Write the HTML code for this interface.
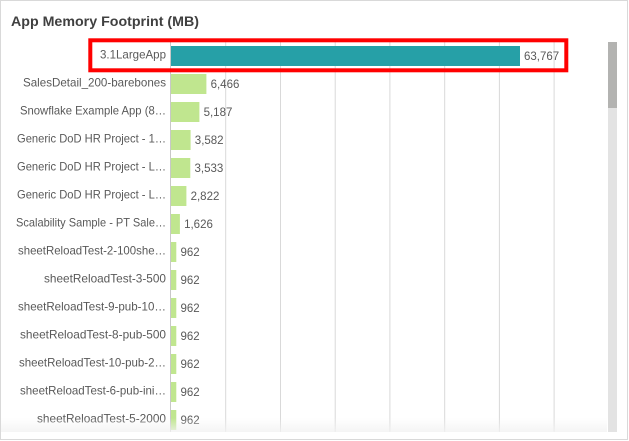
<!DOCTYPE html>
<html>
<head>
<meta charset="utf-8">
<style>
  html, body { margin:0; padding:0; background:#fff; }
  body { width:629px; height:441px; overflow:hidden; position:relative; }
  svg { position:absolute; left:0; top:0; }
  .lbl { font-family:"Liberation Sans", sans-serif; font-size:11.6px; fill:#595959; }
  .val { font-family:"Liberation Sans", sans-serif; font-size:11.5px; fill:#595959; }
  .title { font-family:"Liberation Sans", sans-serif; font-size:14px; font-weight:bold; fill:#404040; }
</style>
</head>
<body>
<svg width="629" height="441" viewBox="0 0 629 441" xmlns="http://www.w3.org/2000/svg">
  <defs>
    <linearGradient id="fade" x1="0" y1="0" x2="0" y2="1">
      <stop offset="0" stop-color="#f2f2f2" stop-opacity="0"/>
      <stop offset="1" stop-color="#f2f2f2" stop-opacity="0.8"/>
    </linearGradient>
  </defs>
  <!-- card -->
  <rect x="0.5" y="0.5" width="627" height="439" fill="#fff" stroke="#d9d9d9" stroke-width="1"/>
  <text class="title" x="11" y="26" textLength="188" lengthAdjust="spacingAndGlyphs">App Memory Footprint (MB)</text>

  <!-- gridlines -->
  <g stroke="#d9d9d9" stroke-width="1">
    <line x1="225.7" y1="40" x2="225.7" y2="432"/>
    <line x1="280.5" y1="40" x2="280.5" y2="432"/>
    <line x1="335.2" y1="40" x2="335.2" y2="432"/>
    <line x1="389.9" y1="40" x2="389.9" y2="432"/>
    <line x1="444.7" y1="40" x2="444.7" y2="432"/>
    <line x1="499.4" y1="40" x2="499.4" y2="432"/>
    <line x1="554.1" y1="40" x2="554.1" y2="432"/>
  </g>
  <line x1="170.5" y1="40" x2="170.5" y2="432" stroke="#c8c8c8" stroke-width="1"/>

  <!-- bars -->
  <rect x="171" y="46" width="349" height="20" fill="#26a0a7"/>
  <g fill="#c0e68f">
    <rect x="171" y="74" width="35.4" height="20"/>
    <rect x="171" y="102" width="28.4" height="20"/>
    <rect x="171" y="130" width="19.6" height="20"/>
    <rect x="171" y="158" width="19.3" height="20"/>
    <rect x="171" y="186" width="15.4" height="20"/>
    <rect x="171" y="214" width="8.9" height="20"/>
    <rect x="171" y="242" width="5.3" height="20"/>
    <rect x="171" y="270" width="5.3" height="20"/>
    <rect x="171" y="298" width="5.3" height="20"/>
    <rect x="171" y="326" width="5.3" height="20"/>
    <rect x="171" y="354" width="5.3" height="20"/>
    <rect x="171" y="382" width="5.3" height="20"/>
    <rect x="171" y="410" width="5.3" height="20"/>
  </g>

  <!-- category labels -->
  <g class="lbl" text-anchor="end">
    <text x="166" y="58.5" textLength="66" lengthAdjust="spacingAndGlyphs">3.1LargeApp</text>
    <text x="166" y="86.3" textLength="143" lengthAdjust="spacingAndGlyphs">SalesDetail_200-barebones</text>
    <text x="166" y="114.3" textLength="146" lengthAdjust="spacingAndGlyphs">Snowflake Example App (8…</text>
    <text x="166" y="142.3" textLength="149" lengthAdjust="spacingAndGlyphs">Generic DoD HR Project - 1…</text>
    <text x="166" y="170.3" textLength="149" lengthAdjust="spacingAndGlyphs">Generic DoD HR Project - L…</text>
    <text x="166" y="198.3" textLength="149" lengthAdjust="spacingAndGlyphs">Generic DoD HR Project - L…</text>
    <text x="166" y="226.3" textLength="150" lengthAdjust="spacingAndGlyphs">Scalability Sample - PT Sale…</text>
    <text x="166" y="254.3" textLength="148" lengthAdjust="spacingAndGlyphs">sheetReloadTest-2-100she…</text>
    <text x="166" y="282.3" textLength="122" lengthAdjust="spacingAndGlyphs">sheetReloadTest-3-500</text>
    <text x="166" y="310.3" textLength="148" lengthAdjust="spacingAndGlyphs">sheetReloadTest-9-pub-10…</text>
    <text x="166" y="338.3" textLength="146" lengthAdjust="spacingAndGlyphs">sheetReloadTest-8-pub-500</text>
    <text x="166" y="366.3" textLength="147" lengthAdjust="spacingAndGlyphs">sheetReloadTest-10-pub-2…</text>
    <text x="166" y="394.3" textLength="146" lengthAdjust="spacingAndGlyphs">sheetReloadTest-6-pub-ini…</text>
    <text x="166" y="422.3" textLength="129" lengthAdjust="spacingAndGlyphs">sheetReloadTest-5-2000</text>
  </g>

  <!-- value labels -->
  <g class="val">
    <text x="524" y="59.8">63,767</text>
    <text x="210.6" y="87.8">6,466</text>
    <text x="203.6" y="115.8">5,187</text>
    <text x="194.8" y="143.8">3,582</text>
    <text x="194.5" y="171.8">3,533</text>
    <text x="190.6" y="199.8">2,822</text>
    <text x="184.1" y="227.8">1,626</text>
    <text x="180.5" y="255.8">962</text>
    <text x="180.5" y="283.8">962</text>
    <text x="180.5" y="311.8">962</text>
    <text x="180.5" y="339.8">962</text>
    <text x="180.5" y="367.8">962</text>
    <text x="180.5" y="395.8">962</text>
    <text x="180.5" y="423.8">962</text>
  </g>

  <!-- bottom fade -->
  <rect x="1" y="418" width="606" height="14" fill="url(#fade)"/>

  <!-- red highlight box -->
  <rect x="90.3" y="40.3" width="476" height="30" fill="none" stroke="#ff0000" stroke-width="4"/>

  <!-- scrollbar -->
  <rect x="608" y="42" width="9" height="390" fill="#e3e3e3"/>
  <rect x="608" y="42" width="9" height="66" fill="#b3b3b1"/>
</svg>
</body>
</html>
